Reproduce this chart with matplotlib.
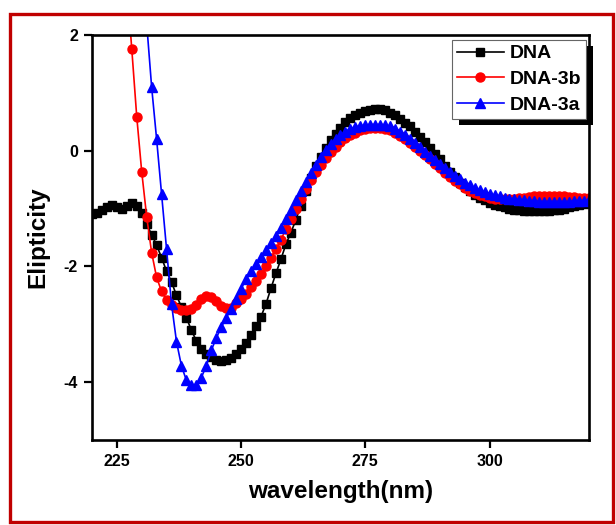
import numpy as np
import matplotlib
matplotlib.use('Agg')
import matplotlib.pyplot as plt
from matplotlib.patches import Rectangle
from matplotlib.transforms import IdentityTransform

plt.rcParams['font.family'] = ['Liberation Sans', 'DejaVu Sans']
plt.rcParams['font.weight'] = 'bold'
plt.rcParams['axes.unicode_minus'] = False

# CD spectra (1 nm steps)
wl_dna = np.arange(220, 321)
dna = [-1.09, -1.07, -1.02, -0.98, -0.93, -0.97, -1.00, -0.95, -0.90, -0.95,
       -1.08, -1.27, -1.45, -1.63, -1.85, -2.08, -2.27, -2.50, -2.70, -2.89,
       -3.10, -3.29, -3.42, -3.52, -3.57, -3.61, -3.63, -3.62, -3.59, -3.52,
       -3.43, -3.32, -3.18, -3.03, -2.87, -2.65, -2.38, -2.12, -1.88, -1.62,
       -1.42, -1.20, -0.95, -0.70, -0.48, -0.27, -0.10, 0.05, 0.18, 0.29,
       0.40, 0.49, 0.56, 0.62, 0.66, 0.69, 0.71, 0.72, 0.72, 0.70,
       0.66, 0.61, 0.55, 0.48, 0.42, 0.33, 0.24, 0.15, 0.05, -0.05,
       -0.15, -0.26, -0.36, -0.46, -0.55, -0.63, -0.70, -0.76, -0.81, -0.86,
       -0.90, -0.93, -0.96, -0.98, -1.00, -1.02, -1.03, -1.04, -1.05, -1.05,
       -1.05, -1.05, -1.04, -1.03, -1.02, -1.00, -0.98, -0.96, -0.94, -0.92,
       -0.90]

wl_3b = np.arange(226, 321)
dna_3b = [4.0, 2.9, 1.76, 0.59,
          -0.36, -1.14, -1.76, -2.19, -2.43, -2.58, -2.66, -2.71, -2.75, -2.76,
          -2.73, -2.66, -2.57, -2.51, -2.52, -2.60, -2.68, -2.72, -2.71, -2.64,
          -2.56, -2.47, -2.36, -2.25, -2.13, -1.99, -1.85, -1.70, -1.54, -1.36,
          -1.18, -1.00, -0.83, -0.66, -0.50, -0.36, -0.24, -0.12, -0.02, 0.07,
          0.15, 0.22, 0.27, 0.31, 0.35, 0.37, 0.39, 0.40, 0.40, 0.38,
          0.35, 0.31, 0.26, 0.20, 0.14, 0.07, 0.00, -0.08, -0.15, -0.23,
          -0.30, -0.38, -0.45, -0.52, -0.58, -0.64, -0.69, -0.73, -0.76, -0.79,
          -0.81, -0.83, -0.84, -0.84, -0.84, -0.83, -0.82, -0.81, -0.80, -0.79,
          -0.79, -0.78, -0.78, -0.78, -0.79, -0.79, -0.80, -0.80, -0.81, -0.82,
          -0.82]

wl_3a = np.arange(230, 321)
dna_3a = [3.4, 2.2, 1.1, 0.2, -0.75, -1.7, -2.65, -3.3, -3.72, -3.97,
          -4.05, -4.05, -3.92, -3.72, -3.45, -3.24, -3.05, -2.89, -2.73, -2.56,
          -2.39, -2.22, -2.08, -1.95, -1.84, -1.72, -1.60, -1.47, -1.33, -1.18,
          -1.02, -0.86, -0.70, -0.54, -0.38, -0.24, -0.10, 0.02, 0.12, 0.20,
          0.27, 0.33, 0.38, 0.41, 0.43, 0.44, 0.45, 0.45, 0.45, 0.44,
          0.42, 0.38, 0.33, 0.27, 0.20, 0.13, 0.06, -0.02, -0.09, -0.16,
          -0.23, -0.30, -0.37, -0.43, -0.49, -0.55, -0.60, -0.64, -0.68, -0.71,
          -0.74, -0.77, -0.79, -0.81, -0.83, -0.84, -0.85, -0.86, -0.87, -0.87,
          -0.88, -0.88, -0.88, -0.88, -0.88, -0.88, -0.88, -0.87, -0.87, -0.87,
          -0.86]

x_ticks = [225, 250, 275, 300]
y_ticks = [-4, -2, 0, 2]

fig = plt.figure(figsize=(6.16, 5.25), dpi=100)
ax = fig.add_axes([92/616, 1 - 440/525, (589 - 92)/616, (440 - 35)/525])

ax.plot(wl_dna, dna, color='black', marker='s', ms=6, lw=1.2, label='DNA')
ax.plot(wl_3b, dna_3b, color='red', marker='o', ms=6.5, lw=1.2, label='DNA-3b')
ax.plot(wl_3a, dna_3a, color='blue', marker='^', ms=7, lw=1.2, label='DNA-3a')

ax.set_xlim(220, 320)
ax.set_ylim(-5, 2)
ax.set_xticks(x_ticks)
ax.set_yticks(y_ticks)
ax.tick_params(direction='out', length=6, width=1.6, labelsize=11.5, pad=4)
for lab in ax.get_xticklabels() + ax.get_yticklabels():
    lab.set_fontweight('bold')
for s in ax.spines.values():
    s.set_linewidth(1.9)

ax.set_xlabel('wavelength(nm)', fontsize=17.5, fontweight='bold', labelpad=8)
ax.set_ylabel('Elipticity', fontsize=17.5, fontweight='bold', labelpad=10)

leg = ax.legend(loc='upper left', bbox_to_anchor=(452/616, 1 - 40/525),
                bbox_transform=fig.transFigure, borderaxespad=0,
                prop={'size': 14, 'weight': 'bold'}, handlelength=2.4,
                handletextpad=0.3, labelspacing=0.42, borderpad=0.25,
                fancybox=False, framealpha=1, edgecolor='#666666')
leg.get_frame().set_linewidth(0.8)
leg.set_zorder(6)

# black drop shadow behind the legend
fig.canvas.draw()
bb = leg.get_window_extent()
shadow = Rectangle((bb.x0 + 7, bb.y0 - 6), bb.width, bb.height,
                   transform=IdentityTransform(), facecolor='black',
                   edgecolor='none', zorder=5.5, clip_on=False)
ax.add_patch(shadow)

# red frame around the whole picture
fig.patches.append(Rectangle((10/616, 3/525), 603/616, 508/525,
                             transform=fig.transFigure, fill=False,
                             edgecolor='#c00000', lw=2.4))

fig.savefig('out.png', dpi=100)
